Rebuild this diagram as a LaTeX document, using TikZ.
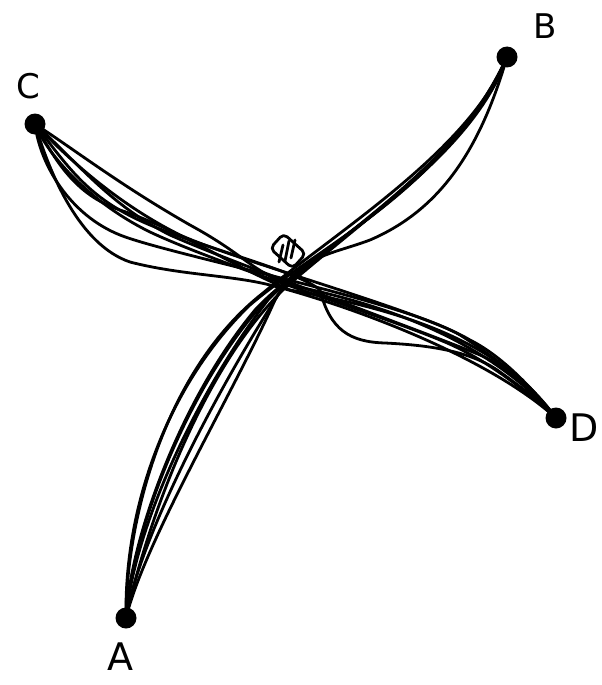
\documentclass[tikz,border=0pt]{standalone}
\usepackage{fontspec}
\setmainfont{DejaVu Sans}
\begin{document}
\begin{tikzpicture}[x=1pt,y=-1pt,
  stroke/.style={line width=2.8pt,line cap=round,line join=round},
  dotpt/.style={circle,fill=black,inner sep=0pt,minimum size=21pt},
  lbl/.style={font=\fontsize{34}{34}\selectfont}]
\useasboundingbox (0,0) rectangle (602,685);
\node[dotpt] (A) at (126,618) {};
\node[dotpt] (B) at (507,57) {};
\node[dotpt] (C) at (35,124) {};
\node[dotpt] (D) at (556,418) {};
\node[lbl,font=\fontsize{38}{38}\selectfont] (la) at (120,657) {A};
\node[lbl] (lb) at (545,26) {B};
\node[lbl] (lc) at (28,86) {C};
\node[lbl,font=\fontsize{38}{38}\selectfont] (ld) at (584,428) {D};
% A-B bundle
\draw[stroke] (A.center) .. controls (126,520) and (165,370) .. (263,293) .. controls (337,231) and (470,150) .. (B.center);
\draw[stroke] (A.center) .. controls (145,540) and (235,390) .. (275,300) .. controls (300,255) and (330,255) .. (370,240) .. controls (440,210) and (480,150) .. (B.center);
\draw[stroke] (A.center) .. controls (132,530) and (190,380) .. (270,296) .. controls (330,240) and (460,170) .. (B.center);
\draw[stroke] (A.center) .. controls (135,520) and (205,380) .. (268,300) .. controls (320,245) and (470,165) .. (B.center);
\draw[stroke] (A.center) .. controls (140,535) and (220,385) .. (280,292) .. controls (340,232) and (465,160) .. (B.center);
\draw[stroke] (A.center) .. controls (130,540) and (180,400) .. (255,310) .. controls (310,250) and (455,180) .. (B.center);
\draw[stroke] (A.center) .. controls (145,530) and (200,370) .. (285,288) .. controls (350,230) and (480,140) .. (B.center);
\draw[stroke] (A.center) .. controls (124,500) and (172,380) .. (250,305) .. controls (320,245) and (445,190) .. (B.center);
% C-D bundle
\draw[stroke] (C.center) .. controls (55,160) and (75,195) .. (120,210) .. controls (180,230) and (230,265) .. (290,290) .. controls (400,310) and (500,340) .. (D.center);
\draw[stroke] (C.center) .. controls (50,175) and (80,245) .. (130,262) .. controls (180,275) and (230,275) .. (270,285) .. controls (330,300) and (480,350) .. (D.center);
\draw[stroke] (C.center) .. controls (70,170) and (90,200) .. (150,225) .. controls (210,250) and (300,272) .. (320,290) .. controls (330,330) and (350,342) .. (385,343) .. controls (425,345) and (470,350) .. (500,372) .. controls (525,390) and (545,405) .. (D.center);
\draw[stroke] (C.center) .. controls (60,150) and (110,200) .. (180,235) .. controls (240,262) and (420,310) .. (470,340) .. controls (500,355) and (530,385) .. (D.center);
\draw[stroke] (C.center) .. controls (40,165) and (70,215) .. (120,235) .. controls (170,255) and (400,300) .. (460,335) .. controls (500,360) and (535,390) .. (D.center);
\draw[stroke] (C.center) .. controls (75,150) and (120,185) .. (190,225) .. controls (245,255) and (250,270) .. (290,285) .. controls (360,300) and (480,330) .. (D.center);
\draw[stroke] (C.center) .. controls (45,150) and (85,200) .. (150,232) .. controls (220,265) and (380,315) .. (440,340) .. controls (490,360) and (530,395) .. (D.center);
\draw[stroke] (C.center) .. controls (80,165) and (110,205) .. (170,235) .. controls (230,262) and (420,330) .. (480,355) .. controls (515,370) and (540,400) .. (D.center);
% small mark
\begin{scope}[shift={(288,251)},rotate=-42]
\draw[stroke,rounded corners=5pt] (-15,-10) rectangle (15,10);
\end{scope}
\draw[stroke] (279,262) -- (283,245);
\draw[stroke] (285,261) -- (289,241);
\draw[stroke] (291,258) -- (295,240);
\end{tikzpicture}
\end{document}
